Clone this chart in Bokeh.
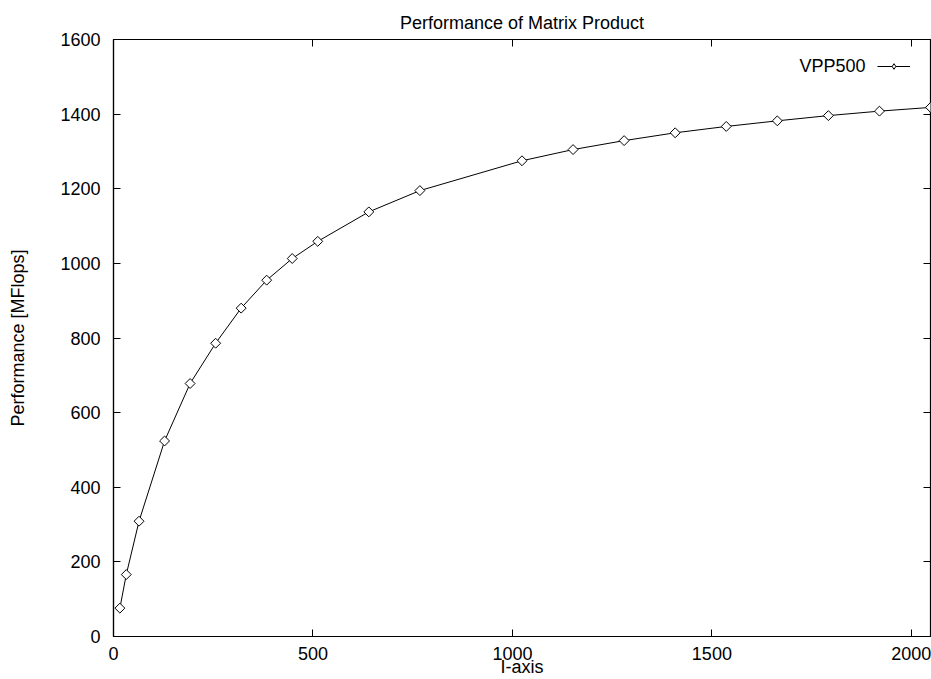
import math
from bokeh.plotting import figure
from bokeh.models import (LinearAxis, FixedTicker, Range1d, Legend, LegendItem, Label)
from bokeh.embed import file_html
from bokeh.resources import INLINE

# Data
sizes = [16, 32, 64, 128, 192, 256, 320, 384, 448, 512, 640, 768,
         1024, 1152, 1280, 1408, 1536, 1664, 1792, 1920, 2048]
mflops = [76, 166, 309, 524, 678, 786, 880, 955, 1013, 1059, 1138, 1195,
          1275, 1305, 1329, 1350, 1367, 1382, 1396, 1408, 1418]
x_ticks = [0, 500, 1000, 1500, 2000]
y_ticks = [0, 200, 400, 600, 800, 1000, 1200, 1400, 1600]
x_limits = (0, 2048)
y_limits = (0, 1600)
series_name = "VPP500"
x_label = "I-axis"
y_label = "Performance [MFlops]"

FONT = "Liberation Sans"
FS = "18px"

p = figure(width=931, height=679, output_backend="svg", toolbar_location=None,
           x_range=Range1d(*x_limits), y_range=Range1d(*y_limits),
           title="Performance of Matrix Product",
           min_border_left=113, min_border_right=1, min_border_top=39,
           min_border_bottom=10)

p.title.align = "center"
p.title.text_font = FONT
p.title.text_font_size = FS
p.title.text_font_style = "normal"
p.title.text_color = "black"
p.title.standoff = 14

p.grid.visible = False
p.outline_line_color = "black"
p.outline_line_width = 1.2
p.background_fill_color = "white"
p.border_fill_color = "white"

def style_axis(ax, ticks, show_labels=True):
    ax.ticker = FixedTicker(ticks=ticks)
    ax.major_tick_in = 7
    ax.major_tick_out = 0
    ax.minor_tick_line_color = None
    ax.major_tick_line_color = "black"
    ax.axis_line_color = "black"
    ax.axis_line_width = 1.2
    if show_labels:
        ax.major_label_text_font = FONT
        ax.major_label_text_font_size = FS
        ax.major_label_text_color = "black"
        ax.axis_label_text_font = FONT
        ax.axis_label_text_font_size = FS
        ax.axis_label_text_font_style = "normal"
        ax.axis_label_text_color = "black"
    else:
        ax.major_label_text_font_size = "1px"
        ax.major_label_text_color = None
        ax.major_label_standoff = 0
        ax.axis_line_color = None

xax = p.xaxis[0]
style_axis(xax, x_ticks)
xax.axis_label = x_label
xax.major_label_standoff = 10
xax.axis_label_standoff = -6

yax = p.yaxis[0]
style_axis(yax, y_ticks)
yax.axis_label = y_label
yax.major_label_standoff = 13
yax.axis_label_standoff = 29

top_ax = LinearAxis()
style_axis(top_ax, x_ticks, show_labels=False)
p.add_layout(top_ax, "above")

right_ax = LinearAxis()
style_axis(right_ax, y_ticks, show_labels=False)
p.add_layout(right_ax, "right")

ln = p.line(sizes, mflops, line_color="black", line_width=1)
pts = p.scatter(sizes, mflops, marker="square", angle=math.pi / 4, size=7,
                line_color="black", fill_color="white", line_width=1)
# hidden renderer used only for the legend's diamond sample
leg_pt = p.scatter(sizes, mflops, marker="diamond", size=9, line_color="black",
                   fill_color="white", line_width=1, visible=False)

legend = Legend(items=[LegendItem(label=" ", renderers=[ln, leg_pt], index=0)],
                location="top_right", glyph_width=33, glyph_height=14,
                label_width=0, label_height=14,
                padding=0, margin=20, label_standoff=0, spacing=0,
                border_line_color=None, background_fill_alpha=0,
                label_text_font_size="1px", label_text_color=None)
p.add_layout(legend)

lbl = Label(x=x_limits[1], y=y_limits[1], x_offset=-65, y_offset=-26, text=series_name,
            text_align="right", text_baseline="middle",
            text_font=FONT, text_font_size=FS, text_color="black")
p.add_layout(lbl)

open("out.html", "w").write(file_html(p, INLINE))
